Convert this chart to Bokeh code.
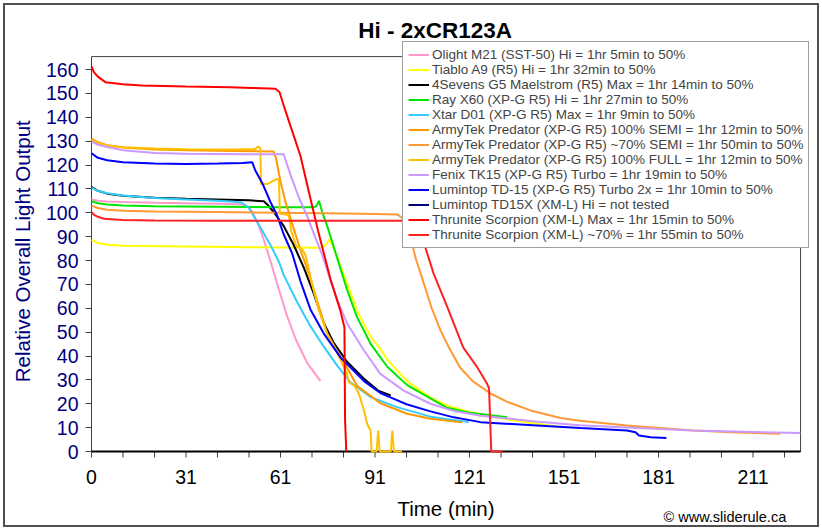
from bokeh.plotting import figure
from bokeh.models import Range1d, FixedTicker, Legend, LegendItem, Label
from bokeh.core.properties import value
from bokeh.embed import file_html
from bokeh.resources import INLINE

FONT = "Liberation Sans"
NAN = float("nan")

# ---------------- data (minutes, relative output) ----------------
olight_t = [0, 2, 5, 10, 20, 30, 40, 47, 49, 51, 53, 55, 57, 59, 62, 65, 68.5, 72.7]
olight_v = [105.6, 105.0, 104.7, 104.5, 104.2, 104.0, 103.8, 103.6, 103.2, 100.5, 95.0, 87.5, 79.0, 70.0, 57.0, 46.5, 37.0, 29.5]

tiablo_t = [0, 2, 5, 10, 30, 50, 72.7, 74.2, 75.6, 76.9, 78, 81.2, 84.3, 88.6, 91.7, 93.9, 100.2, 104, 108, 113, 120, 130, 140, 150]
tiablo_v = [88.7, 87.3, 86.6, 86.2, 85.9, 85.6, 85.3, 86.3, 88.8, 85.0, 81.4, 70.2, 59.0, 48.0, 43.0, 38.5, 29.5, 25.8, 22.3, 19.2, 16.6, 13.9, 11.8, 10.1]

foursevens_t = [0, 2, 5, 10, 20, 30, 40, 50, 54.7, 55.8, 58, 61, 64.2, 67.4, 70.6, 73.7, 76.9, 81.2, 86.5, 91, 95]
foursevens_v = [110.8, 109.2, 108.0, 107.1, 106.3, 105.9, 105.6, 105.2, 104.8, 103.5, 100.0, 94.5, 86.5, 77.0, 66.0, 54.0, 45.5, 37.5, 30.5, 25.5, 23.5]

ray_t = [0, 2, 5, 10, 20, 40, 60, 70.6, 71.5, 72.2, 73.2, 74.8, 76, 78, 81.2, 84.3, 88.6, 93.9, 100.2, 107.6, 112.9, 120, 132]
ray_v = [104.8, 104.0, 103.5, 103.0, 102.7, 102.5, 102.3, 102.3, 103.0, 105.0, 100.5, 94.5, 89.5, 81.0, 67.5, 56.3, 45.1, 35.5, 27.8, 22.3, 18.3, 16.2, 14.4]

xtar_t = [0, 2, 5, 10, 20, 30, 40, 47.5, 50, 52, 54, 57, 59.5, 61, 65.3, 69.5, 73.7, 78, 82.2, 88.6, 97, 107.6, 119.8]
xtar_v = [110.5, 109.2, 108.2, 107.2, 106.2, 105.6, 105.0, 104.4, 102.0, 97.5, 93.0, 86.0, 79.5, 74.0, 62.5, 52.5, 44.0, 36.0, 29.0, 22.8, 18.6, 14.6, 12.3]

semi100_t = [0, 2, 5, 10, 20, 30, 45, 57.8, 58.6, 60, 61.6, 63.7, 66.3, 68.5, 71.6, 74.8, 77.5, 80.1, 84.3, 91.7, 100.2, 107.6, 117.7]
semi100_v = [131.0, 129.5, 128.3, 127.3, 126.5, 126.2, 125.9, 125.7, 122.6, 113.0, 104.5, 95.5, 84.5, 76.5, 63.2, 49.3, 43.0, 37.5, 27.5, 20.2, 15.8, 13.7, 12.2]

semi70_t = [0, 2, 5, 10, 20, 40, 60, 80, 90, 97, 98.5, 99.5, 100.5, 101.5, 103, 105.5, 108, 110.8, 113.5, 117, 121, 126.7, 132, 139.4, 148.9, 155, 170, 191, 205, 218.7]
semi70_v = [103.0, 102.0, 101.3, 100.8, 100.5, 100.3, 100.0, 99.7, 99.5, 99.3, 98.0, 95.5, 92.3, 88.4, 80.5, 70.4, 60.0, 50.7, 43.5, 35.2, 29.5, 24.3, 20.8, 17.2, 14.0, 12.9, 10.9, 8.8, 8.0, 7.4]

full100_t = [0, 2, 5, 10, 20, 30, 45, 52, 52.9, 53.6, 53.8, 55.8, 58.9, 59.5, 59.8, 62.6, 63.5, 65, 67, 68, 70, 72.2, 74.8, 77, 79, 81, 81.7, 83.5, 84.9, 86.5, 87.5, 88.6, 88.9, 90.5, 91, 91.5, 95, 95.5, 96, 98.6]
full100_v = [130.5, 129.2, 128.2, 127.4, 126.9, 126.6, 126.5, 126.7, 127.8, 127.0, 112.0, 112.0, 114.2, 113.8, 99.6, 99.1, 92.0, 86.0, 84.5, 82.0, 70.5, 59.0, 49.5, 44.0, 38.5, 33.0, 29.0, 27.5, 24.2, 17.2, 11.6, 8.8, 0, 0, 8.8, 0, 0, 8.8, 0, 0]

fenix_t = [0, 2, 5, 10, 20, 30, 50, 61, 62, 63.7, 65.8, 68.5, 71.1, 73.2, 75.9, 78.5, 81.2, 86.5, 91.7, 99.1, 107.6, 115, 123.5, 140, 155, 170, 191, 210, 225]
fenix_v = [129.8, 128.5, 127.5, 126.2, 125.0, 124.7, 124.5, 124.5, 120.5, 114.0, 106.5, 98.5, 89.5, 82.5, 71.5, 62.0, 53.5, 42.3, 32.5, 25.5, 20.0, 17.0, 15.0, 12.7, 11.0, 10.1, 8.8, 8.2, 7.7]

td15_t = [0, 2, 5, 10, 20, 30, 40, 48, 51, 52, 54.2, 56.8, 58.9, 61, 63.7, 66.3, 69.5, 73.7, 79, 86.5, 91.7, 94.9, 100, 107.6, 115, 123.5, 140, 155.2, 170, 172.7, 173.8, 177.5, 182.5]
td15_v = [124.9, 123.0, 122.0, 121.2, 120.6, 120.4, 120.6, 120.8, 121.2, 117.7, 112.5, 104.5, 99.0, 91.0, 83.0, 71.5, 59.5, 49.5, 39.5, 29.5, 24.5, 22.7, 19.8, 16.8, 14.3, 12.3, 11.0, 9.8, 8.8, 8.1, 6.7, 6.0, 5.7]

td15x_t = [NAN]   # not tested: no data
td15x_v = [NAN]

scorp_max_t = [0, 0.7, 2, 4.4, 10, 16, 30, 44, 51, 58.4, 59.7, 61, 63.5, 66.3, 69.5, 72, 75.9, 79, 80.3, 80.5, 80.9]
scorp_max_v = [161.3, 159.0, 157.0, 154.7, 153.8, 153.3, 152.9, 152.6, 152.3, 151.9, 150.5, 145.0, 135.0, 124.0, 106.0, 92.0, 72.0, 59.0, 52.0, 13.0, 0]

scorp70_t = [0, 1, 2, 4, 10, 20, 40, 60, 80, 102.5, 103.5, 104.5, 105.3, 108.6, 113, 118, 122.5, 125.5, 126.2, 126.9, 130.5]
scorp70_v = [100.2, 99.0, 98.3, 97.5, 97.0, 96.8, 96.7, 96.7, 96.7, 96.7, 95.0, 91.5, 88.4, 74.5, 60.4, 43.6, 35.2, 28.6, 26.5, 0, 0]

labels = [
    "Olight M21 (SST-50) Hi = 1hr 5min to 50%",
    "Tiablo A9 (R5) Hi = 1hr 32min to 50%",
    "4Sevens G5 Maelstrom (R5) Max = 1hr 14min to 50%",
    "Ray X60 (XP-G R5) Hi = 1hr 27min to 50%",
    "Xtar D01 (XP-G R5) Max = 1hr 9min to 50%",
    "ArmyTek Predator (XP-G R5) 100% SEMI = 1hr 12min to 50%",
    "ArmyTek Predator (XP-G R5) ~70% SEMI = 1hr 50min to 50%",
    "ArmyTek Predator (XP-G R5) 100% FULL = 1hr 12min to 50%",
    "Fenix TK15 (XP-G R5) Turbo = 1hr 19min to 50%",
    "Lumintop TD-15 (XP-G R5) Turbo 2x = 1hr 10min to 50%",
    "Lumintop TD15X (XM-L) Hi = not tested",
    "Thrunite Scorpion (XM-L) Max = 1hr 15min to 50%",
    "Thrunite Scorpion (XM-L) ~70% = 1hr 55min to 50%",
]
colors = ["#FF99CC", "#FFFF00", "#000000", "#00E600", "#33CCFF", "#FF9900", "#FF9933",
          "#FFC000", "#CC99FF", "#0000FF", "#000080", "#FF0000", "#FF2020"]
series_t = [olight_t, tiablo_t, foursevens_t, ray_t, xtar_t, semi100_t, semi70_t,
            full100_t, fenix_t, td15_t, td15x_t, scorp_max_t, scorp70_t]
series_v = [olight_v, tiablo_v, foursevens_v, ray_v, xtar_v, semi100_v, semi70_v,
            full100_v, fenix_v, td15_v, td15x_v, scorp_max_v, scorp70_v]

x_tick_pos = list(range(0, 221, 10))
x_tick_labels = ["0", "", "", "31", "", "", "61", "", "", "91", "", "", "121", "", "",
                 "151", "", "", "181", "", "", "211", ""]
y_ticks = list(range(0, 161, 10))
x_max, y_max = 225.1, 165.4          # plot-area extent

# ---------------- layout constants (pixels) ----------------
W, H = 822, 530
BOX_LEFT = 91        # plot area left edge (value t = 0)
FRAME_LEFT = 85      # drawing frame starts a little further left (room for the "0" label)
AXIS_Y = 451         # pixel row of value 0
PX_X = 3.15          # pixels per minute
PX_Y = 2.3875        # pixels per output unit

x0 = -(BOX_LEFT - FRAME_LEFT) / PX_X
p = figure(width=W, height=H, output_backend="svg", toolbar_location=None,
           x_axis_location=None, y_axis_location="left",
           x_range=Range1d(x0, x0 + (W - FRAME_LEFT) / PX_X),
           y_range=Range1d(-(H - AXIS_Y) / PX_Y, AXIS_Y / PX_Y),
           min_border_left=FRAME_LEFT, min_border_right=0, min_border_top=0, min_border_bottom=0,
           background_fill_alpha=0, border_fill_alpha=0)
p.styles = {"background-color": "#ffffff",
            "box-shadow": "inset 0 0 0 3px #ffffff, inset 0 0 0 5px #505050"}
p.outline_line_color = None
p.xgrid.visible = False
p.ygrid.visible = False

# y axis (real axis) - ticks drawn inward so they end on the plot-area edge
ya = p.yaxis[0]
ya.ticker = FixedTicker(ticks=y_ticks)
ya.axis_line_color = None
ya.minor_tick_line_color = None
ya.major_tick_in = 6
ya.major_tick_out = 0
ya.major_tick_line_color = "#404040"
ya.major_label_standoff = 7
ya.major_label_text_font = FONT
ya.major_label_text_font_size = "19.5px"
ya.major_label_text_color = "#000080"
ya.axis_label = "\u00a0" * 5 + "Relative Overall Light Output"
ya.axis_label_standoff = 9
ya.axis_label_text_font = FONT
ya.axis_label_text_font_size = "20.5px"
ya.axis_label_text_font_style = "normal"
ya.axis_label_text_color = "#000080"

# plot-area box and time axis
p.quad(left=0, right=x_max, bottom=0, top=y_max, fill_color=None,
       line_color="#404040", line_width=1)
tick_len = 6 / PX_Y
p.segment(x0=x_tick_pos, y0=[0] * len(x_tick_pos), x1=x_tick_pos,
          y1=[-tick_len] * len(x_tick_pos), line_color="#404040", line_width=1)
p.segment(x0=[0], y0=[0], x1=[x_max], y1=[0], line_color="#000000", line_width=2)
p.text(x=x_tick_pos, y=[0] * len(x_tick_pos), text=x_tick_labels,
       text_font=value(FONT), text_font_size=value("19.5px"), text_color="#000000",
       text_align="center", text_baseline="middle", y_offset=25.5)

items = []
for lab, col, t, v in zip(labels, colors, series_t, series_v):
    r = p.line(t, v, line_color=col, line_width=2)
    items.append(LegendItem(label=lab, renderers=[r]))

legend = Legend(items=items, location=(402 - FRAME_LEFT, H - 247.5), orientation="vertical",
                label_text_font=FONT, label_text_font_size="13.5px",
                label_height=15, glyph_height=15, glyph_width=21, label_standoff=3,
                spacing=0, padding=5, margin=0,
                border_line_color="#404040", border_line_width=1,
                background_fill_color="white", background_fill_alpha=1.0)
p.add_layout(legend)

p.add_layout(Label(x=434.7 - FRAME_LEFT, y=H - 29.5, x_units="screen", y_units="screen",
                   text="Hi - 2xCR123A", text_font=FONT, text_font_size="22.5px",
                   text_font_style="bold", text_align="center", text_baseline="middle",
                   text_color="#000000"))
p.add_layout(Label(x=445.5 - FRAME_LEFT, y=H - 507.5, x_units="screen", y_units="screen",
                   text="Time (min)", text_font=FONT, text_font_size="20.5px",
                   text_align="center", text_baseline="middle", text_color="#000000"))
p.add_layout(Label(x=663 - FRAME_LEFT, y=H - 516.7, x_units="screen", y_units="screen",
                   text="\u00a9 www.sliderule.ca", text_font=FONT, text_font_size="14.5px",
                   text_align="left", text_baseline="middle", text_color="#000000"))

open("out.html", "w").write(file_html(p, INLINE))
